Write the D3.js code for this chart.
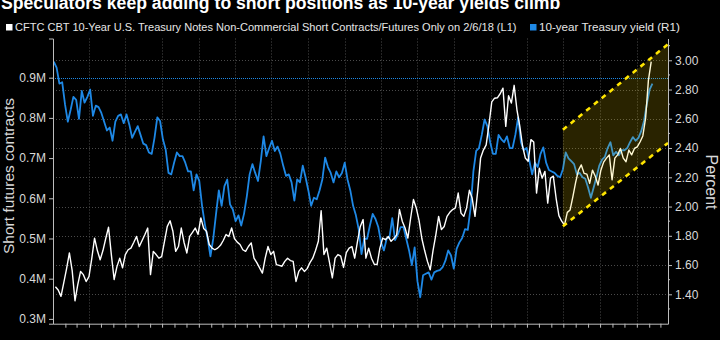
<!DOCTYPE html>
<html><head><meta charset="utf-8">
<script src="https://cdn.jsdelivr.net/npm/d3@7"></script>
<style>
html,body{margin:0;padding:0;background:#000;}
svg{display:block;}
text{font-family:"Liberation Sans",Arial,sans-serif;}
</style></head><body>
<svg id="c" width="720" height="340"></svg>
<script>
// ---------- data ----------
const titleText = "Speculators keep adding to short positions as 10-year yields climb";
const legendLabels = [
  "CFTC CBT 10-Year U.S. Treasury Notes Non-Commercial Short Contracts/Futures Only on 2/6/18 (L1)",
  "10-year Treasury yield (R1)"
];
const leftTitle = "Short futures contracts";
const rightTitle = "Percent";
const leftTicks = [0.3, 0.4, 0.5, 0.6, 0.7, 0.8, 0.9];
const rightTicks = [1.4, 1.6, 1.8, 2.0, 2.2, 2.4, 2.6, 2.8, 3.0];
const rightMinorTicks = [1.3, 1.5, 1.7, 1.9, 2.1, 2.3, 2.5, 2.7, 2.9, 3.1];
const leftDomain = [0.288, 0.9975];
const rightDomain = [1.199, 3.149];
const dateDomain = ["2014-01-01", "2018-03-20"];
const shortsStart = "2014-01-07";   // weekly CFTC, millions of contracts
const shorts = [
 0.38,0.372,0.356,0.39,0.425,0.464,0.42,0.345,0.385,0.418,
 0.41,0.393,0.405,0.45,0.501,0.47,0.447,0.47,0.5,0.528,
 0.46,0.398,0.43,0.451,0.427,0.46,0.472,0.476,0.49,0.505,
 0.48,0.495,0.51,0.526,0.41,0.468,0.46,0.451,0.455,0.493,
 0.53,0.544,0.518,0.468,0.48,0.526,0.49,0.464,0.505,0.515,
 0.526,0.51,0.551,0.525,0.518,0.485,0.476,0.472,0.476,0.483,
 0.495,0.51,0.505,0.526,0.50,0.491,0.485,0.472,0.468,0.48,
 0.489,0.451,0.44,0.427,0.414,0.451,0.48,0.46,0.468,0.435,
 0.433,0.431,0.443,0.451,0.445,0.443,0.393,0.418,0.427,0.418,
 0.425,0.44,0.451,0.47,0.493,0.569,0.46,0.476,0.44,0.402,
 0.451,0.46,0.456,0.428,0.465,0.476,0.48,0.451,0.493,0.53,
 0.547,0.451,0.476,0.451,0.436,0.435,0.476,0.501,0.497,0.505,
 0.493,0.50,0.509,0.572,0.543,0.526,0.501,0.551,0.597,0.576,
 0.545,0.50,0.47,0.443,0.422,0.47,0.509,0.555,0.522,0.53,
 0.555,0.565,0.572,0.576,0.613,0.563,0.555,0.576,0.62,0.60,
 0.555,0.62,0.70,0.72,0.733,0.783,0.84,0.849,0.85,0.86,
 0.874,0.779,0.855,0.837,0.881,0.82,0.78,0.73,0.70,0.692,
 0.746,0.74,0.613,0.675,0.65,0.667,0.588,0.65,0.655,0.60,
 0.557,0.543,0.533,0.565,0.571,0.604,0.64,0.67,0.683,0.662,
 0.66,0.637,0.67,0.655,0.633,0.67,0.69,0.70,0.708,0.646,
 0.70,0.708,0.724,0.70,0.691,0.72,0.708,0.724,0.728,0.74,
 0.755,0.80,0.894,0.94
];
const yieldStart = "2014-01-03";    // weekly, percent
const yields = [
 2.99,2.95,2.84,2.85,2.70,2.58,2.66,2.75,2.73,2.60,
 2.79,2.71,2.75,2.80,2.62,2.69,2.68,2.64,2.58,2.52,
 2.54,2.45,2.58,2.62,2.63,2.57,2.63,2.56,2.47,2.51,
 2.55,2.49,2.43,2.42,2.37,2.36,2.47,2.61,2.585,2.46,
 2.39,2.23,2.22,2.30,2.37,2.345,2.345,2.30,2.24,2.24,
 2.11,2.22,2.175,2.005,1.88,1.78,1.66,1.78,1.95,2.11,
 2.005,2.14,2.185,2.015,1.98,1.90,1.94,1.87,1.95,2.07,
 2.22,2.29,2.23,2.175,2.31,2.48,2.345,2.40,2.45,2.38,
 2.41,2.36,2.28,2.21,2.22,2.165,2.04,2.185,2.165,2.28,
 2.20,2.11,2.005,2.06,2.05,2.11,2.185,2.335,2.27,2.23,
 2.165,2.24,2.20,2.23,2.30,2.185,2.11,2.005,1.94,1.845,
 1.675,1.78,1.78,1.87,1.95,1.915,1.86,1.755,1.70,1.78,
 1.79,1.92,1.77,1.81,1.86,1.86,1.78,1.70,1.60,1.72,
 1.49,1.38,1.53,1.54,1.55,1.50,1.55,1.56,1.565,1.585,
 1.63,1.70,1.665,1.575,1.71,1.755,1.785,1.845,1.84,1.99,
 2.24,2.38,2.40,2.49,2.595,2.55,2.44,2.36,2.36,2.49,
 2.46,2.44,2.48,2.40,2.40,2.49,2.61,2.44,2.385,2.40,
 2.315,2.22,2.30,2.27,2.36,2.405,2.30,2.25,2.24,2.23,
 2.21,2.20,2.255,2.37,2.33,2.31,2.29,2.22,2.23,2.20,
 2.19,2.13,2.06,2.13,2.20,2.28,2.32,2.34,2.40,2.44,
 2.35,2.375,2.35,2.385,2.385,2.40,2.44,2.475,2.45,2.47,
 2.515,2.585,2.70,2.80,2.84
];
const refLevel = 0.9;   // dotted reference line on L1
const channelDates = ["2017-06-30", "2018-03-20"];
const channelUpper = [2.525, 3.11];
const channelLower = [1.865, 2.435];

// ---------- layout ----------
const W = 720, H = 340;
const plot = {l: 53, r: 668, t: 38.5, b: 323.7};
const svg = d3.select("#c");
svg.append("rect").attr("width", W).attr("height", H).attr("fill", "#000");

const parse = d3.utcParse("%Y-%m-%d");
const x = d3.scaleUtc().domain(dateDomain.map(parse)).range([plot.l, plot.r]);
const yL = d3.scaleLinear().domain(leftDomain).range([plot.b, plot.t]);
const yR = d3.scaleLinear().domain(rightDomain).range([plot.b, plot.t]);

const s0 = parse(shortsStart), y0 = parse(yieldStart);
const shortsData = shorts.map((v, i) => ({d: d3.utcDay.offset(s0, 7 * i), v}));
const yieldData = yields.map((v, i) => ({d: d3.utcDay.offset(y0, 7 * i), v}));

const gridCol = "#4a4a4a";
// horizontal gridlines (right axis majors)
svg.append("g").selectAll("line").data(rightTicks).join("line")
  .attr("x1", plot.l).attr("x2", plot.r)
  .attr("y1", d => Math.round(yR(d)) + 0.5).attr("y2", d => Math.round(yR(d)) + 0.5)
  .attr("stroke", gridCol).attr("stroke-dasharray", "1,2");
// vertical gridlines (quarters)
const quarters = d3.utcMonth.every(3).range(d3.utcDay.offset(x.domain()[0], 1), x.domain()[1]);
svg.append("g").selectAll("line").data(quarters).join("line")
  .attr("x1", d => Math.round(x(d)) + 0.5).attr("x2", d => Math.round(x(d)) + 0.5)
  .attr("y1", plot.t).attr("y2", plot.b)
  .attr("stroke", gridCol).attr("stroke-dasharray", "1,2");

// reference dotted line
svg.append("line")
  .attr("x1", plot.l).attr("x2", plot.r)
  .attr("y1", Math.round(yL(refLevel)) + 0.5).attr("y2", Math.round(yL(refLevel)) + 0.5)
  .attr("stroke", "#1e88e5").attr("stroke-width", 1).attr("stroke-dasharray", "1,1");

const blue = "#1e88e5";
// yield line
svg.append("path").datum(yieldData)
  .attr("fill", "none").attr("stroke", blue).attr("stroke-width", 1.8)
  .attr("stroke-linejoin", "round")
  .attr("d", d3.line().x(d => x(d.d)).y(d => yR(d.v)));
// shorts line
svg.append("path").datum(shortsData)
  .attr("fill", "none").attr("stroke", "#ffffff").attr("stroke-width", 1.4)
  .attr("stroke-linejoin", "round")
  .attr("d", d3.line().x(d => x(d.d)).y(d => yL(d.v)));

// channel
const cd = channelDates.map(parse);
const chan = [
  [x(cd[0]), yR(channelUpper[0])], [x(cd[1]), yR(channelUpper[1])],
  [x(cd[1]), yR(channelLower[1])], [x(cd[0]), yR(channelLower[0])]
];
svg.append("path").attr("d", d3.line()(chan) + "Z")
  .attr("fill", "#ffd800").attr("fill-opacity", 0.16);
[[channelUpper], [channelLower]].forEach(([arr]) => {
  svg.append("line")
    .attr("x1", x(cd[0])).attr("y1", yR(arr[0]))
    .attr("x2", x(cd[1])).attr("y2", yR(arr[1]))
    .attr("stroke", "#ffe500").attr("stroke-width", 2.6)
    .attr("stroke-dasharray", "5,5");
});

// axes
const axCol = "#bdbdbd", lblCol = "#d9d9d9", fs = 12;
const gL = svg.append("g").attr("transform", `translate(${plot.l},0)`)
  .call(d3.axisLeft(yL).tickValues(leftTicks).tickSize(4).tickSizeOuter(4).tickPadding(3)
    .tickFormat(d => d.toFixed(1) + "M"));
const gR = svg.append("g").attr("transform", `translate(${plot.r},0)`)
  .call(d3.axisRight(yR).tickValues(rightTicks).tickSize(4).tickSizeOuter(0).tickPadding(3)
    .tickFormat(d3.format(".2f")));
svg.append("g").attr("transform", `translate(${plot.r},0)`)
  .selectAll("line").data(rightMinorTicks).join("line")
  .attr("x1", 0).attr("x2", 2).attr("y1", d => yR(d)).attr("y2", d => yR(d))
  .attr("stroke", axCol);
const months = d3.utcMonth.range(d3.utcDay.offset(x.domain()[0], 1), x.domain()[1]);
const gB = svg.append("g").attr("transform", `translate(0,${plot.b})`)
  .call(d3.axisBottom(x).tickValues(months).tickSize(4).tickSizeOuter(0).tickFormat(""));
[gL, gR, gB].forEach(g => {
  g.selectAll("path.domain").attr("stroke", axCol);
  g.selectAll(".tick line").attr("stroke", axCol);
  g.selectAll(".tick text").attr("fill", lblCol).attr("font-size", fs)
    .attr("font-family", '"Liberation Sans", Arial, sans-serif');
});

// helper to fit text to a target width
function fit(sel, target) {
  const w = sel.node().getComputedTextLength();
  const f = parseFloat(sel.attr("font-size"));
  sel.attr("font-size", f * target / w);
}

// title
const t = svg.append("text").attr("x", 1).attr("y", 9)
  .attr("fill", "#fff").attr("font-weight", "bold").attr("font-size", 16)
  .text(titleText);
fit(t, 560);

// legend
svg.append("rect").attr("x", 6).attr("y", 24).attr("width", 6.5).attr("height", 6.5).attr("fill", "#fff");
const l1 = svg.append("text").attr("x", 15).attr("y", 31).attr("fill", "#e6e6e6")
  .attr("font-size", 11).text(legendLabels[0]);
fit(l1, 502);
svg.append("rect").attr("x", 530).attr("y", 24).attr("width", 6.5).attr("height", 6.5).attr("fill", blue);
const l2 = svg.append("text").attr("x", 539).attr("y", 31).attr("fill", "#e6e6e6")
  .attr("font-size", 11).text(legendLabels[1]);
fit(l2, 141);

// axis titles
const lt = svg.append("text").attr("transform", "translate(14,176) rotate(-90)")
  .attr("text-anchor", "middle").attr("fill", lblCol).attr("font-size", 15).text(leftTitle);
fit(lt, 156);
const rt = svg.append("text").attr("transform", "translate(706,182) rotate(90)")
  .attr("text-anchor", "middle").attr("fill", lblCol).attr("font-size", 15).text(rightTitle);
fit(rt, 55);
</script>
</body></html>
